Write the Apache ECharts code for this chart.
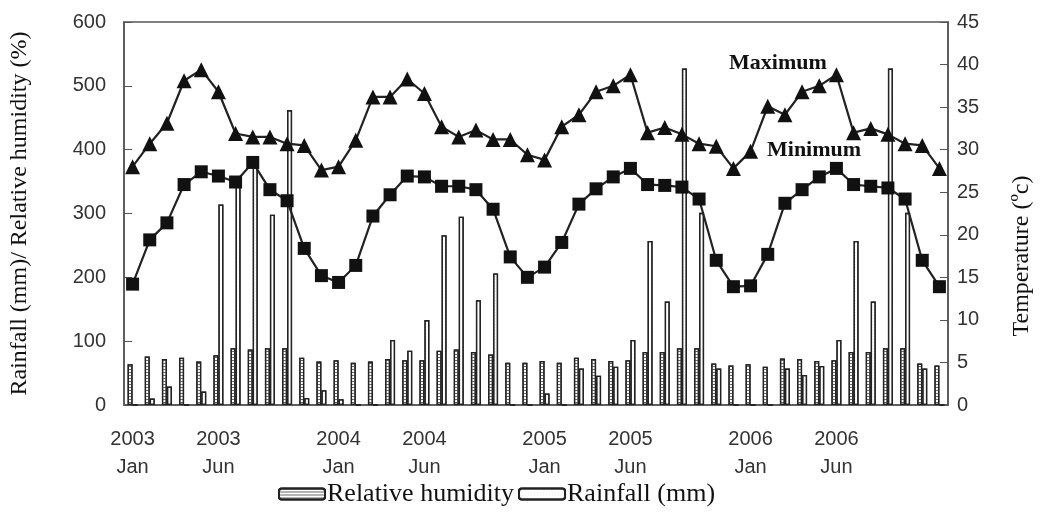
<!DOCTYPE html>
<html>
<head>
<meta charset="utf-8">
<script src="https://cdn.jsdelivr.net/npm/echarts@6/dist/echarts.min.js"></script>
<style>
  html, body { margin: 0; padding: 0; background: #fff; }
  #chart { width: 1043px; height: 512px; }
</style>
</head>
<body>
<div id="chart"></div>
<script>
// Months, Jan 2003 to Dec 2006
var years = ['2003', '2004', '2005', '2006'];
var monthNames = ['Jan', 'Feb', 'Mar', 'Apr', 'May', 'Jun', 'Jul', 'Aug', 'Sep', 'Oct', 'Nov', 'Dec'];
var categories = [];
years.forEach(function (y) {
  monthNames.forEach(function (m) { categories.push(y + '\n' + m); });
});

// which category labels are shown on the x axis
var labelIndexes = [0, 5, 12, 17, 24, 29, 36, 41];

// Relative humidity (%)
var humidity = [
  64, 76, 72, 74, 68, 78, 89, 87, 89, 89, 74, 68,
  70, 66, 68, 72, 70, 70, 85, 87, 83, 79, 66, 66,
  69, 66, 74, 72, 69, 70, 83, 83, 89, 89, 65, 62,
  64, 60, 73, 72, 69, 70, 83, 83, 89, 89, 65, 62
];

// Rainfall (mm)
var rainfall = [
  0, 10, 29, 0, 21, 314, 345, 378, 298, 462, 11, 23,
  9, 0, 0, 102, 85, 133, 266, 295, 164, 206, 0, 0,
  18, 0, 57, 46, 60, 102, 257, 162, 527, 301, 57, 0,
  0, 0, 57, 47, 61, 102, 257, 162, 527, 301, 57, 0
];

// Temperature (°C)
var tempMax = [
  28.0, 30.7, 33.1, 38.1, 39.4, 36.8, 31.9, 31.5, 31.5, 30.7, 30.5, 27.6,
  28.0, 31.1, 36.2, 36.2, 38.3, 36.6, 32.7, 31.5, 32.3, 31.2, 31.2, 29.4,
  28.8, 32.7, 34.1, 36.8, 37.5, 38.8, 32.0, 32.6, 31.8, 30.7, 30.4, 27.8,
  29.8, 35.1, 34.1, 36.8, 37.5, 38.8, 32.0, 32.5, 31.8, 30.7, 30.5, 27.8
];
var tempMin = [
  14.2, 19.4, 21.4, 25.9, 27.4, 26.9, 26.2, 28.5, 25.3, 24.0, 18.4, 15.2,
  14.4, 16.4, 22.2, 24.7, 26.9, 26.8, 25.7, 25.7, 25.3, 23.0, 17.4, 15.0,
  16.2, 19.1, 23.6, 25.4, 26.8, 27.8, 25.9, 25.8, 25.6, 24.2, 17.0, 13.9,
  14.0, 17.7, 23.7, 25.3, 26.8, 27.8, 25.9, 25.7, 25.5, 24.2, 17.0, 13.9
];

var chart = echarts.init(document.getElementById('chart'), null, { renderer: 'canvas' });

var tickFont = { fontFamily: 'Liberation Sans', fontSize: 20, color: '#333' };
var serif = 'Liberation Serif';

var option = {
  animation: false,
  backgroundColor: '#fff',
  grid: {
    left: 122, right: 95, top: 22, bottom: 107,
    show: true, borderColor: '#555', borderWidth: 1.5
  },
  legend: {
    bottom: 0,
    left: 273,
    itemWidth: 46,
    itemHeight: 11,
    itemGap: 4,
    textStyle: { fontFamily: serif, fontSize: 26, color: '#111', padding: [0, 0, 0, -3] },
    data: ['Relative humidity', 'Rainfall (mm)']
  },
  xAxis: {
    type: 'category',
    data: categories,
    boundaryGap: true,
    axisLine: { lineStyle: { color: '#555', width: 1.5 } },
    axisTick: { interval: 0, length: 6, lineStyle: { color: '#555' } },
    axisLabel: Object.assign({
      interval: function (i) { return labelIndexes.indexOf(i) >= 0; },
      lineHeight: 28,
      margin: 20
    }, tickFont)
  },
  yAxis: [
    {
      type: 'value',
      min: 0, max: 600, interval: 100,
      name: 'Rainfall (mm)/ Relative humidity (%)',
      nameLocation: 'middle',
      nameGap: 92,
      nameTextStyle: { fontFamily: serif, fontSize: 24, color: '#111' },
      axisLine: { show: true, lineStyle: { color: '#555', width: 1.5 } },
      axisTick: { show: true, inside: true, length: 8, lineStyle: { color: '#555' } },
      splitLine: { show: false },
      axisLabel: Object.assign({ margin: 18 }, tickFont)
    },
    {
      type: 'value',
      min: 0, max: 45, interval: 5,
      axisLine: { show: true, lineStyle: { color: '#555', width: 1.5 } },
      axisTick: { show: true, inside: true, length: 8, lineStyle: { color: '#555' } },
      splitLine: { show: false },
      axisLabel: Object.assign({ margin: 9 }, tickFont)
    }
  ],
  series: [
    {
      name: 'Relative humidity',
      type: 'bar',
      yAxisIndex: 0,
      data: humidity,
      barWidth: 5,
      barGap: '0%',
      itemStyle: {
        color: '#fff',
        borderColor: '#222',
        borderWidth: 1.3,
        decal: {
          symbol: 'rect',
          symbolSize: 1,
          dashArrayX: [1, 0],
          dashArrayY: [1, 2],
          color: '#666'
        }
      }
    },
    {
      name: 'Rainfall (mm)',
      type: 'bar',
      yAxisIndex: 0,
      data: rainfall,
      barWidth: 5,
      itemStyle: {
        color: '#fff',
        borderColor: '#222',
        borderWidth: 1.3,
        decal: {
          symbol: 'rect',
          symbolSize: 0.6,
          dashArrayX: [1, 2],
          dashArrayY: [1, 2],
          color: '#bbb'
        }
      }
    },
    {
      name: 'Maximum',
      type: 'line',
      yAxisIndex: 1,
      data: tempMax,
      symbol: 'triangle',
      symbolSize: 15,
      showAllSymbol: true,
      z: 5,
      lineStyle: { color: '#222', width: 2.2 },
      itemStyle: { color: '#111' }
    },
    {
      name: 'Minimum',
      type: 'line',
      yAxisIndex: 1,
      data: tempMin,
      symbol: 'rect',
      symbolSize: 13,
      showAllSymbol: true,
      z: 5,
      lineStyle: { color: '#222', width: 2.2 },
      itemStyle: { color: '#111' }
    }
  ],
  graphic: [
    {
      type: 'text', left: 729, top: 52,
      style: { text: 'Maximum', fontFamily: serif, fontSize: 22, fontWeight: 'bold', fill: '#111' }
    },
    {
      type: 'text', left: 767, top: 139,
      style: { text: 'Minimum', fontFamily: serif, fontSize: 22, fontWeight: 'bold', fill: '#111' }
    },
    {
      type: 'text', x: 1022, y: 256, rotation: Math.PI / 2,
      style: {
        text: 'Temperature (ºc)', fontFamily: serif, fontSize: 24, fill: '#111',
        align: 'center', verticalAlign: 'middle'
      }
    }
  ]
};

chart.setOption(option);
</script>
</body>
</html>
